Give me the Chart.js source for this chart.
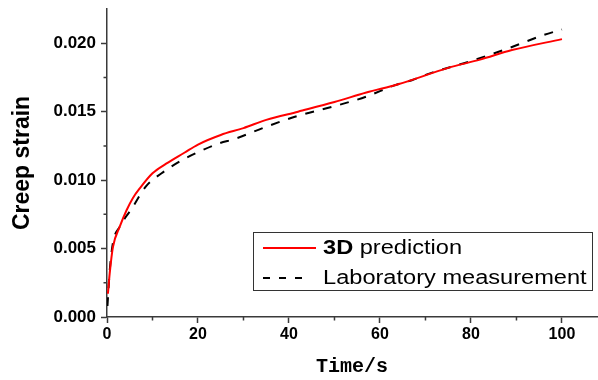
<!DOCTYPE html>
<html>
<head>
<meta charset="utf-8">
<script src="https://cdn.jsdelivr.net/npm/chart.js@4/dist/chart.umd.min.js"></script>
<style>
  html, body { margin: 0; padding: 0; background: #fff; }
  #wrap { width: 598px; height: 380px; }
</style>
</head>
<body>
<div id="wrap"><canvas id="chart" width="598" height="380"></canvas></div>
<script>
// time (s) and creep strain
const predTime = [0.2, 0.6, 1.3, 2.8, 4.3, 5.7, 7.2, 10, 13, 17, 20, 25, 30, 35, 42, 50, 57, 64, 75, 82, 89, 100];
const predStrain = [0.0017, 0.0032, 0.0051, 0.0066, 0.0078, 0.0087, 0.0094, 0.0105, 0.0112, 0.0120, 0.0126, 0.0133, 0.0138, 0.0144, 0.0150, 0.0157, 0.0164, 0.0170, 0.0182, 0.0188, 0.0195, 0.0203];

const labTime = [0.1, 0.6, 1.3, 2.8, 5.4, 8.7, 12, 16.7, 20.4, 24.8, 28, 35, 42, 50, 57, 63, 67, 71, 80, 88, 96, 100];
const labStrain = [0.0008, 0.0034, 0.0054, 0.0066, 0.0079, 0.0096, 0.0105, 0.0115, 0.0121, 0.0127, 0.0130, 0.0139, 0.0147, 0.0154, 0.0161, 0.0169, 0.0173, 0.0178, 0.0187, 0.0196, 0.0206, 0.0210];

const xTicks = [0, 20, 40, 60, 80, 100];
const xMinor = [10, 30, 50, 70, 90];
const yTicks = [0, 0.005, 0.010, 0.015, 0.020];
const yMinor = [0.0025, 0.0075, 0.0125, 0.0175];

const seriesNames = ['3D prediction', 'Laboratory measurement'];

const axisColor = '#3a3a3a';
const font = "'Liberation Sans', Arial, sans-serif";

// minor ticks and the boxed legend
const extras = {
  id: 'extras',
  afterDraw(chart) {
    const ctx = chart.ctx;
    const xs = chart.scales.x, ys = chart.scales.y;
    ctx.save();
    ctx.strokeStyle = axisColor;
    ctx.lineWidth = 1.5;
    ctx.beginPath();
    xMinor.forEach(v => {
      const px = xs.getPixelForValue(v);
      ctx.moveTo(px, xs.top);
      ctx.lineTo(px, xs.top + 3.5);
    });
    yMinor.forEach(v => {
      const py = ys.getPixelForValue(v);
      ctx.moveTo(ys.right, py);
      ctx.lineTo(ys.right - 3.5, py);
    });
    ctx.stroke();

    // legend
    const bx = 253, by = 232, bw = 339, bh = 58;
    ctx.fillStyle = '#fff';
    ctx.fillRect(bx, by, bw, bh);
    ctx.strokeStyle = '#333';
    ctx.lineWidth = 1;
    ctx.strokeRect(bx + 0.5, by + 0.5, bw, bh);

    const rows = [248, 278];
    ctx.lineWidth = 2;
    ctx.strokeStyle = '#ff0000';
    ctx.beginPath();
    ctx.moveTo(263, rows[0]);
    ctx.lineTo(316, rows[0]);
    ctx.stroke();

    ctx.strokeStyle = '#000';
    ctx.setLineDash([7, 9]);
    ctx.beginPath();
    ctx.moveTo(263, rows[1]);
    ctx.lineTo(304, rows[1]);
    ctx.stroke();
    ctx.setLineDash([]);

    ctx.fillStyle = '#000';
    ctx.textBaseline = 'middle';
    ctx.textAlign = 'left';
    const sx = 1.18;
    // first row: "3D" in bold, rest plain
    ctx.save();
    ctx.translate(323, rows[0]);
    ctx.scale(sx, 1);
    ctx.font = 'bold 20px ' + font;
    const boldPart = seriesNames[0].slice(0, 2);
    ctx.fillText(boldPart, 0, 0);
    const w = ctx.measureText(boldPart).width;
    ctx.font = '20px ' + font;
    ctx.fillText(seriesNames[0].slice(2), w, 0);
    ctx.restore();

    ctx.save();
    ctx.translate(323, rows[1]);
    ctx.scale(sx, 1);
    ctx.font = '20px ' + font;
    ctx.fillText(seriesNames[1], 0, 0);
    ctx.restore();

    ctx.restore();
  }
};

new Chart(document.getElementById('chart'), {
  type: 'line',
  data: {
    datasets: [
      {
        label: seriesNames[0],
        data: predTime.map((t, i) => ({ x: t, y: predStrain[i] })),
        borderColor: '#ff0000',
        borderWidth: 2,
        pointRadius: 0,
        cubicInterpolationMode: 'monotone',
        fill: false
      },
      {
        label: seriesNames[1],
        data: labTime.map((t, i) => ({ x: t, y: labStrain[i] })),
        borderColor: '#000000',
        borderWidth: 2,
        borderDash: [9, 9],
        pointRadius: 0,
        cubicInterpolationMode: 'monotone',
        fill: false
      }
    ]
  },
  options: {
    responsive: false,
    animation: false,
    layout: { padding: { top: 9, right: 1, left: 0, bottom: 0 } },
    plugins: {
      legend: { display: false },
      tooltip: { enabled: false }
    },
    scales: {
      x: {
        type: 'linear',
        min: 0,
        max: 107.7,
        afterBuildTicks: s => { s.ticks = xTicks.map(v => ({ value: v })); },
        afterFit: s => { s.height = 63; s.paddingRight = 0; },
        border: { color: axisColor, width: 1.5 },
        grid: { drawOnChartArea: false, tickLength: 6, tickColor: axisColor, tickWidth: 1.5 },
        ticks: {
          color: '#000',
          padding: 2,
          maxRotation: 0,
          font: { family: font, size: 16, weight: 'bold' }
        },
        title: {
          display: true,
          text: 'Time/s',
          color: '#000',
          padding: { top: 0, bottom: 1 },
          font: { family: "'Liberation Mono', 'DejaVu Sans Mono', monospace", size: 20, weight: 'bold' }
        }
      },
      y: {
        min: 0,
        max: 0.0225,
        afterBuildTicks: s => { s.ticks = yTicks.map(v => ({ value: v })); },
        afterFit: s => { s.width = 107; s.paddingTop = 0; s.paddingBottom = 0; },
        border: { color: axisColor, width: 1.5 },
        grid: { drawOnChartArea: false, tickLength: 6, tickColor: axisColor, tickWidth: 1.5 },
        ticks: {
          color: '#000',
          padding: 5,
          font: { family: font, size: 17, weight: 'bold' },
          callback: v => v.toFixed(3)
        },
        title: {
          display: true,
          text: 'Creep strain',
          color: '#000',
          padding: { top: 9, bottom: 0 },
          font: { family: font, size: 23, weight: 'bold' }
        }
      }
    }
  },
  plugins: [extras]
});
</script>
</body>
</html>
